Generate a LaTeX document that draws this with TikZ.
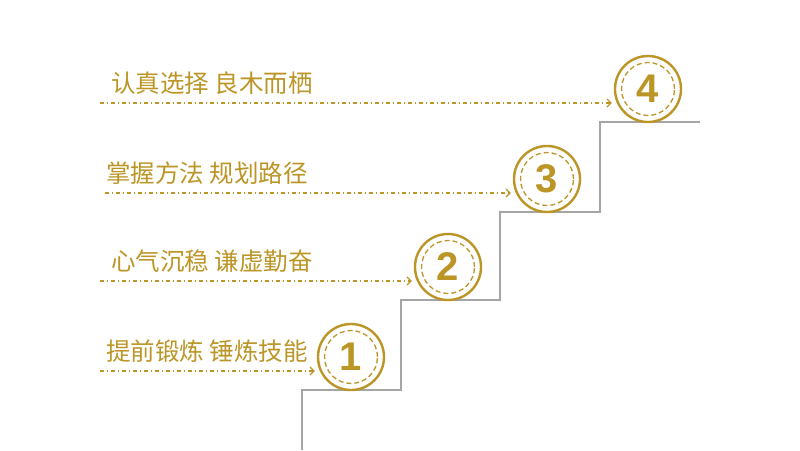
\documentclass[tikz,border=0pt]{standalone}
\usepackage{fontspec}
\newfontfamily\cjk{Noto Sans CJK SC}
\newfontfamily\numfont{Liberation Sans}
\usetikzlibrary{arrows.meta,positioning}
\definecolor{StepGold}{RGB}{187, 149, 38}
\definecolor{StairGrey}{RGB}{165, 165, 165}

\tikzset{
  stepcircle/.style={circle, draw=StepGold, line width=2.4pt, minimum size=66pt, inner sep=0pt,
    text=StepGold, font=\numfont\bfseries\fontsize{40}{40}\selectfont},
  innerring/.style={circle, draw=StepGold, dash pattern=on 5pt off 3pt, line width=1.3pt, minimum size=53pt},
  steplabel/.style={anchor=west, text=StepGold, inner sep=0pt, font=\cjk\fontsize{24.5}{24.5}\selectfont},
  guide/.style={draw=StepGold, line width=1.2pt, dash pattern=on 4pt off 3pt on 1pt off 3pt,
    -{Straight Barb[length=4pt,width=8pt]}, shorten >=2pt}
}

\begin{document}
\begin{tikzpicture}[x=1pt, y=-1pt]
  \useasboundingbox (0,0) rectangle (800,450);

  % stairs
  \draw[StairGrey, line width=1.5pt] (302,450) -- (302,390) -- (401,390) -- (401,300) -- (500,300)
    -- (500,212) -- (600,212) -- (600,122) -- (700,122);

  % steps - circle, dashed ring, text and guide arrow
  \foreach \n/\cx/\cy/\sx/\tx/\txt in {1/351/357/100/106/{提前锻炼 锤炼技能},
                                       2/448/267/100/111/{心气沉稳 谦虚勤奋},
                                       3/547/179/105/106/{掌握方法 规划路径},
                                       4/648/89/100/111/{认真选择 良木而栖}} {
    \node[stepcircle] (c\n) at (\cx, \cy) {\n};
    \node[innerring] (r\n) at (c\n) {};
    \coordinate (s\n) at (\sx, \cy+14);
    \node[steplabel] (t\n) at (\tx, \cy-6) {\txt};
    \draw[guide] (s\n) -- (s\n -| c\n.west);
  }
\end{tikzpicture}
\end{document}
